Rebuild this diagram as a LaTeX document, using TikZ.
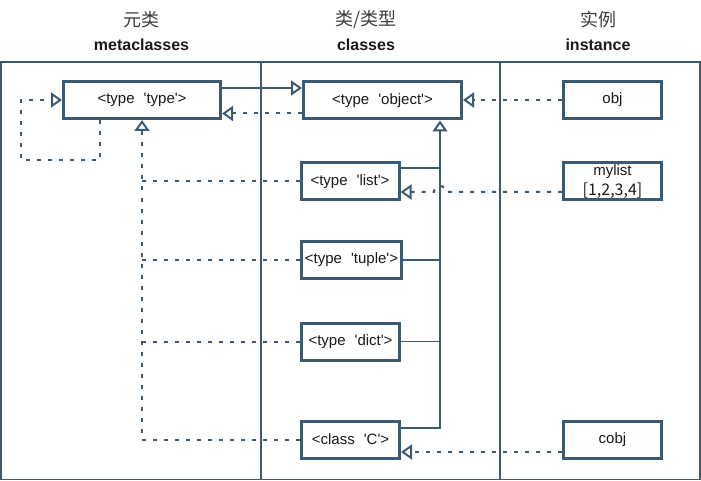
\documentclass[tikz,border=0pt]{standalone}
\usepackage{fontspec}
\setmainfont{Liberation Sans}
\newfontfamily\cjk{Noto Sans CJK SC}
\usetikzlibrary{arrows.meta,calc}
\definecolor{ln}{HTML}{3D5A73}
\definecolor{tx}{HTML}{1A1A1A}
\newcommand{\sq}{\textquotesingle}
\newcommand{\lbl}[2]{<#1\hspace{9pt}\sq#2\sq>}
\begin{document}
\begin{tikzpicture}[x=1pt,y=-1pt,
 box/.style={draw=ln, line width=3pt, fill=white, inner sep=0pt, font=\fontsize{15}{18}\selectfont, text=tx},
 clsbox/.style={box, minimum width=98pt, minimum height=37pt},
 wide/.style={box, minimum width=157pt, minimum height=37pt},
 tri/.style={-{Triangle[open,length=11pt,width=15pt,line width=2pt]}},
 dsh/.style={draw=ln, line width=2pt, dash pattern=on 4pt off 7pt},
 sld/.style={draw=ln, line width=2pt},
 thin/.style={draw=ln, line width=1.5pt},
 frame/.style={draw=ln, line width=1.8pt},
 head/.style={font=\cjk\fontsize{18}{20}\selectfont, text=tx!85},
 headb/.style={font=\bfseries\fontsize{16}{18}\selectfont, text=tx}]
\useasboundingbox (0,0) rectangle (701,481);
% headers
\node[head] (h1) at (141.5,20) {元类};
\node[headb] (h1b) at (141.5,45) {metaclasses};
\node[head] (h2) at (366,20) {类/类型};
\node[headb] (h2b) at (366,45) {classes};
\node[head] (h3) at (598,20) {实例};
\node[headb] (h3b) at (598,45) {instance};
% frame
\draw[frame] (0.9,62) rectangle (700,479.5);
\draw[frame] (261,62) -- (261,479.5);
\draw[frame] (500,62) -- (500,479.5);
% boxes
\node[wide] (type) at (142,100) {\lbl{type}{type}};
\node[wide, minimum width=158pt] (object) at (382.5,100.5) {\lbl{type}{object}};
\node[clsbox] (list) at (350,181.5) {\lbl{type}{list}};
\node[clsbox, minimum width=100pt] (tuple) at (351.5,260) {\lbl{type}{tuple}};
\node[clsbox] (dict) at (350.5,341.5) {\lbl{type}{dict}};
\node[clsbox] (C) at (350.5,439.5) {<class\hspace{9pt}\sq C\sq>};
\node[clsbox] (obj) at (612.5,100) {obj};
\node[clsbox, align=center] (mylist) at (612.5,181.5) {mylist\\[2pt]{\cjk\fontsize{16}{18}\selectfont [1,2,3,4]}};
\node[clsbox] (cobj) at (612.5,439.5) {cobj};
% coordinates
\coordinate (loopc) at (21,160);
\coordinate (ot) at ([xshift=57.5pt]object.south);
\coordinate (hop) at (446,192);
% type <-> object
\draw[sld, tri] ([yshift=12pt]type.east) -- ([yshift=12pt]type.east -| object.west);
\draw[dsh, tri] ([yshift=-13pt]object.west) -- ([yshift=-13pt]object.west -| type.east);
% self loop
\draw[dsh, tri] ([xshift=-42pt]type.south) |- (loopc) |- (type.west);
% instance-of type
\draw[dsh, tri] (C.west) -| (type.south);
\draw[dsh] (list.west) -- (list.west -| type.south);
\draw[dsh] (tuple.west) -- (tuple.west -| type.south);
\draw[dsh] (dict.west) -- (dict.west -| type.south);
% inheritance
\draw[sld, tri] ([yshift=11.5pt]C.east) -| (ot);
\draw[thin] ([yshift=13.5pt]list.east) -- ([yshift=13.5pt]list.east -| ot);
\draw[thin] (tuple.east) -- (tuple.east -| ot);
\draw[thin] (dict.east) -- (dict.east -| ot);
% instances
\draw[dsh, tri] (obj.west) -- (obj.west -| object.east);
\draw[dsh, tri] (mylist.west |- hop) -- (hop) arc (0:-180:6) -- (list.east |- hop);
\draw[dsh, tri] ([yshift=-12.5pt]cobj.west) -- ([yshift=-12.5pt]C.east);
\end{tikzpicture}
\end{document}
